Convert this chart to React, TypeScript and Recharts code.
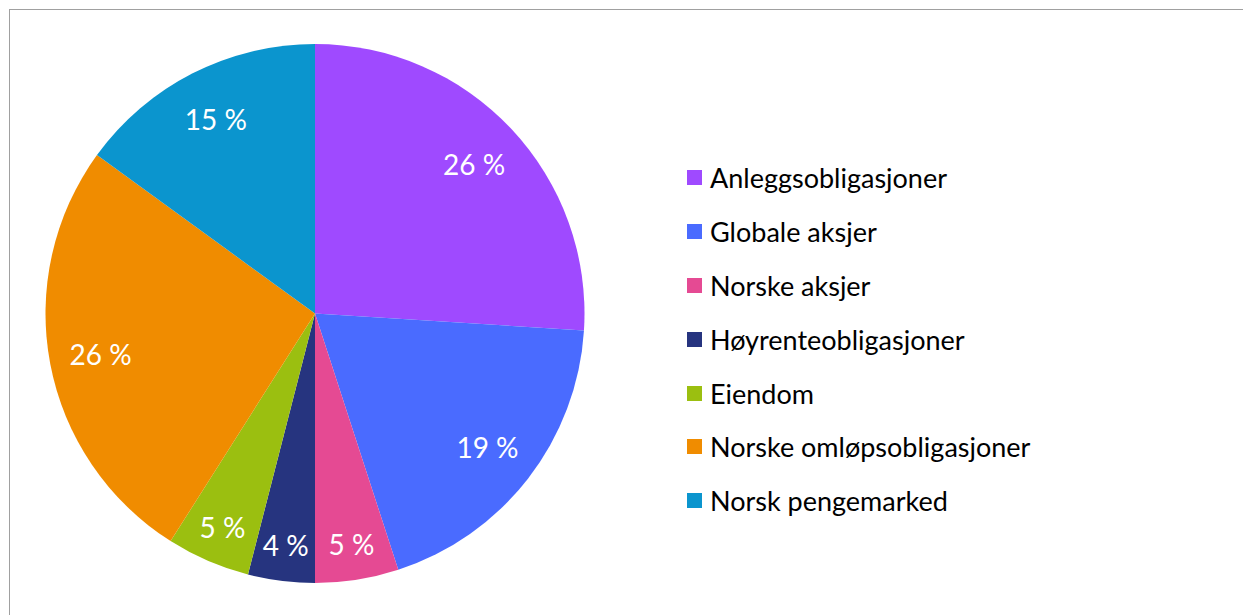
import { Legend, Pie, PieChart } from "recharts";

const categories = [
  "Anleggsobligasjoner",
  "Globale aksjer",
  "Norske aksjer",
  "Høyrenteobligasjoner",
  "Eiendom",
  "Norske omløpsobligasjoner",
  "Norsk pengemarked",
];
const shares = [26, 19, 5, 4, 5, 26, 15];
const colors = ["#9f4aff", "#4a6bff", "#e54a93", "#26347f", "#9bbf10", "#f08c00", "#0b95ce"];

const data = categories.map((name, i) => ({ name, value: shares[i], fill: colors[i] }));

const font = "Lato, 'Open Sans', sans-serif";
const RAD = Math.PI / 180;

function renderLabel(props: any) {
  const { cx, cy, midAngle, outerRadius, value } = props;
  const r = outerRadius * (value < 7 ? 0.865 : 0.81);
  const x = cx + r * Math.cos(-midAngle * RAD);
  const y = cy + r * Math.sin(-midAngle * RAD);
  return (
    <text x={x} y={y} fill="#fff" fontSize={28} fontFamily={font} textAnchor="middle" dominantBaseline="central">
      {value} %
    </text>
  );
}

function LegendList() {
  return (
    <div style={{ fontFamily: font, fontSize: 27, color: "#000" }}>
      {data.map((d) => (
        <div key={d.name} style={{ height: 53.8, display: "flex", alignItems: "center" }}>
          <span style={{ width: 15, height: 15, background: d.fill, marginRight: 8, flexShrink: 0 }} />
          <span style={{ whiteSpace: "nowrap" }}>{d.name}</span>
        </div>
      ))}
    </div>
  );
}

export default function App() {
  return (
    <div
      style={{
        position: "absolute",
        left: 9,
        top: 9,
        width: 1234,
        height: 606,
        borderTop: "1px solid #a0a0a0",
        borderLeft: "1px solid #a0a0a0",
        background: "#fff",
        overflow: "hidden",
      }}
    >
      <PieChart width={1233} height={605} margin={{ top: 0, right: 0, bottom: 0, left: 0 }}>
        <Pie
          data={data}
          dataKey="value"
          nameKey="name"
          cx={305}
          cy={303.5}
          outerRadius={269.5}
          startAngle={90}
          endAngle={-270}
          stroke="none"
          label={renderLabel}
          labelLine={false}
          isAnimationActive={false}
        />
        <Legend content={<LegendList />} wrapperStyle={{ left: 677, top: 141, width: 440 }} />
      </PieChart>
    </div>
  );
}
